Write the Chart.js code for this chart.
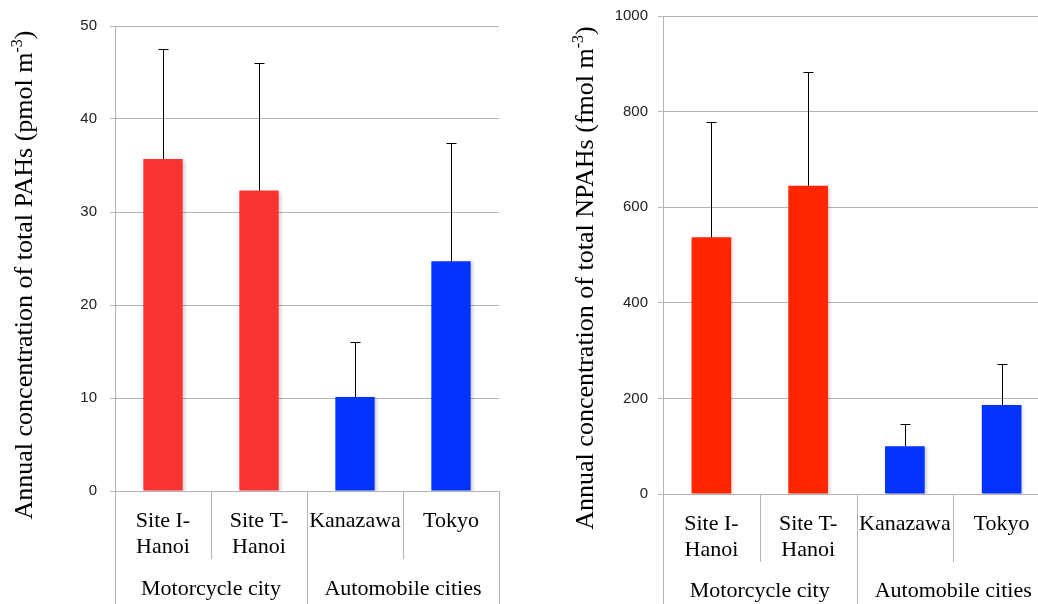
<!DOCTYPE html>
<html>
<head>
<meta charset="utf-8">
<script src="https://cdn.jsdelivr.net/npm/chart.js@4/dist/chart.umd.min.js"></script>
<style>
  html, body { margin: 0; padding: 0; background: #fff; overflow: hidden; width: 1038px; height: 604px; }
  .panel { position: absolute; top: 0; height: 604px; }
  #left { left: 0; width: 520px; }
  #right { left: 520px; width: 540px; }
</style>
</head>
<body>
<div class="panel" id="left"><canvas id="pahChart" width="520" height="604"></canvas></div>
<div class="panel" id="right"><canvas id="npahChart" width="540" height="604"></canvas></div>
<script>
// data
const categories = [['Site I-', 'Hanoi'], ['Site T-', 'Hanoi'], 'Kanazawa', 'Tokyo'];
const groups = ['Motorcycle city', 'Automobile cities'];
const groupStart = [0, 2];
const groupEnd = [2, 4];

const pahMean = [35.7, 32.3, 10.1, 24.7];
const pahSd = [11.8, 13.7, 5.9, 12.7];
const npahMean = [537, 645, 100, 186];
const npahSd = [241, 238, 46, 87];

const pahTicks = { min: 0, max: 50, step: 10 };
const npahTicks = { min: 0, max: 1000, step: 200 };

// styles
const pahColors = ['#fa3333', '#fa3333', '#0433ff', '#0433ff'];
const npahColors = ['#ff2600', '#ff2600', '#0433ff', '#0433ff'];
const gridGray = '#b4b4b4';

// faint drop shadow under the bars
const barShadow = {
  id: 'barShadow',
  beforeDatasetsDraw(chart) {
    const ctx = chart.ctx;
    ctx.save();
    ctx.shadowColor = 'rgba(0,0,0,0.18)';
    ctx.shadowOffsetX = 2;
    ctx.shadowOffsetY = 1;
    ctx.shadowBlur = 3;
  },
  afterDatasetsDraw(chart) {
    chart.ctx.restore();
  }
};

// error bars (upper only)
const errorBars = {
  id: 'errorBars',
  afterDatasetsDraw(chart, args, opts) {
    const ctx = chart.ctx;
    const y = chart.scales.y;
    const meta = chart.getDatasetMeta(0);
    ctx.save();
    ctx.strokeStyle = '#000';
    ctx.lineWidth = 1;
    meta.data.forEach((bar, i) => {
      const top = y.getPixelForValue(opts.mean[i] + opts.sd[i]);
      const x = Math.round(bar.x) + 0.5;
      ctx.beginPath();
      ctx.moveTo(x, bar.y);
      ctx.lineTo(x, Math.round(top) + 0.5);
      ctx.moveTo(x - 5, Math.round(top) + 0.5);
      ctx.lineTo(x + 5, Math.round(top) + 0.5);
      ctx.stroke();
    });
    ctx.restore();
  }
};

// category dividers and group labels under the x axis
const groupAxis = {
  id: 'groupAxis',
  afterDraw(chart, args, opts) {
    const ctx = chart.ctx;
    const xs = chart.scales.x;
    const n = categories.length;
    const step = xs.width / n;
    const bottom = chart.chartArea.bottom;
    ctx.save();
    ctx.strokeStyle = gridGray;
    ctx.lineWidth = 1;
    for (let i = 0; i <= n; i++) {
      const x = Math.round(xs.left + i * step) + 0.5;
      const outer = groupStart.includes(i) || groupEnd.includes(i);
      ctx.beginPath();
      ctx.moveTo(x, bottom);
      ctx.lineTo(x, outer ? chart.height : bottom + opts.innerLen);
      ctx.stroke();
    }
    ctx.fillStyle = '#000';
    ctx.font = '22px "Liberation Serif"';
    ctx.textAlign = 'center';
    ctx.textBaseline = 'middle';
    groups.forEach((g, k) => {
      const cx = xs.left + (groupStart[k] + groupEnd[k]) / 2 * step;
      ctx.fillText(g, cx, opts.groupY);
    });
    ctx.restore();
  }
};

// rotated y axis title with superscript
const yTitle = {
  id: 'yTitle',
  afterDraw(chart, args, opts) {
    const ctx = chart.ctx;
    const mainFont = '26px "Liberation Serif"';
    const supFont = '16px "Liberation Serif"';
    ctx.save();
    ctx.font = mainFont;
    const w1 = ctx.measureText(opts.text).width;
    const w3 = ctx.measureText(')').width;
    ctx.font = supFont;
    const w2 = ctx.measureText('-3').width;
    const total = w1 + w2 + w3;
    ctx.translate(opts.x, opts.y);
    ctx.rotate(-Math.PI / 2);
    ctx.fillStyle = '#000';
    ctx.textBaseline = 'alphabetic';
    ctx.textAlign = 'left';
    let sx = -total / 2;
    ctx.font = mainFont;
    ctx.fillText(opts.text, sx, 0);
    sx += w1;
    ctx.font = supFont;
    ctx.fillText('-3', sx, -10);
    sx += w2;
    ctx.font = mainFont;
    ctx.fillText(')', sx, 0);
    ctx.restore();
  }
};

function makeChart(id, mean, sd, ticks, colors, cfg) {
  return new Chart(document.getElementById(id), {
    type: 'bar',
    data: {
      labels: categories,
      datasets: [{
        data: mean,
        backgroundColor: colors,
        borderWidth: 0,
        categoryPercentage: 1,
        barPercentage: cfg.barPct
      }]
    },
    plugins: [barShadow, errorBars, groupAxis, yTitle],
    options: {
      responsive: false,
      animation: false,
      layout: { padding: cfg.padding },
      plugins: {
        legend: { display: false },
        tooltip: { enabled: false },
        errorBars: { mean: mean, sd: sd },
        groupAxis: { innerLen: cfg.innerLen, groupY: cfg.groupY },
        yTitle: { text: cfg.title, x: cfg.titleX, y: cfg.titleY }
      },
      scales: {
        x: {
          grid: { display: false },
          border: { color: gridGray },
          ticks: {
            color: '#000',
            autoSkip: false,
            maxRotation: 0,
            padding: cfg.xPad,
            font: { family: 'Liberation Serif', size: 22, lineHeight: 1.15 }
          },
          afterFit(s) { s.height = cfg.xHeight; }
        },
        y: {
          min: ticks.min,
          max: ticks.max,
          ticks: {
            stepSize: ticks.step,
            color: '#222',
            padding: cfg.yPad,
            font: { family: 'Liberation Sans', size: 15 },
            callback: v => String(v)
          },
          grid: { color: gridGray, tickLength: 5 },
          border: { color: gridGray },
          afterFit(s) {
            s.width = cfg.yWidth;
            s.paddingTop = 0;
            s.paddingBottom = 0;
          }
        }
      }
    }
  });
}

makeChart('pahChart', pahMean, pahSd, pahTicks, pahColors, {
  barPct: 0.41,
  padding: { top: 26, right: 21, left: 0, bottom: 0 },
  xHeight: 113,
  xPad: 10,
  yWidth: 115,
  yPad: 13,
  innerLen: 68,
  groupY: 589,
  title: 'Annual concentration of total PAHs (pmol m',
  titleX: 32,
  titleY: 275
});

makeChart('npahChart', npahMean, npahSd, npahTicks, npahColors, {
  barPct: 0.41,
  padding: { top: 16, right: 10, left: 0, bottom: 0 },
  xHeight: 110,
  xPad: 10,
  yWidth: 143,
  yPad: 10,
  innerLen: 68,
  groupY: 591,
  title: 'Annual concentration of total NPAHs (fmol m',
  titleX: 73,
  titleY: 278
});
</script>
</body>
</html>
